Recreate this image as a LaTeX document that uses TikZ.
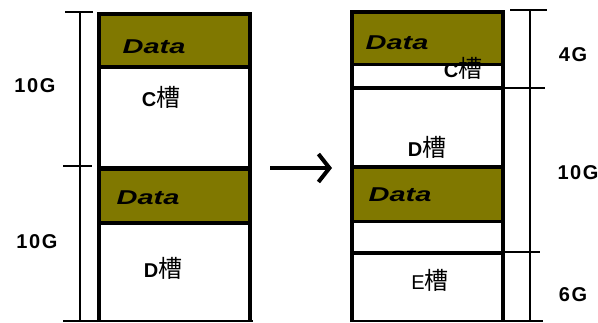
\documentclass[tikz,border=0pt]{standalone}
\usepackage{fontspec}
\setmainfont{Liberation Sans}
\newfontfamily\cjk{Noto Sans CJK SC}
\newfontfamily\sizefont[LetterSpace=8]{Liberation Sans}
\usetikzlibrary{arrows.meta}
\definecolor{olivefill}{RGB}{128,120,0}
\tikzset{
  wall/.style={line width=4pt},
  sep/.style={line width=3.5pt},
  dim/.style={line width=1.3pt},
  sizelbl/.style={font=\fontsize{20}{20}\selectfont\sizefont\bfseries, inner sep=0pt},
  datalbl/.style={inner sep=0pt},
  drivelbl/.style={inner sep=0pt},
}
\newcommand{\datatxt}{\scalebox{1.45}[1]{\fontsize{20}{20}\selectfont\bfseries\itshape Data}}
\newcommand{\drv}[1]{{\fontsize{20}{20}\selectfont\bfseries #1}{\cjk\fontsize{24}{24}\selectfont 槽}}
\newcommand{\drvn}[1]{{\fontsize{20}{20}\selectfont #1}{\cjk\fontsize{24}{24}\selectfont 槽}}
\begin{document}
\begin{tikzpicture}[x=1pt,y=-1pt]
\useasboundingbox (0,0) rectangle (598,322);
% ---- left column ----
\fill[olivefill] (99,14) rectangle (250,67);
\fill[olivefill] (99,168) rectangle (250,223);
\draw[wall] (99,322) -- (99,14) -- (250,14) -- (250,322);
\draw[sep] (99,67) -- (250,67);
\draw[wall,line width=5pt] (99,168) -- (250,168);
\draw[sep] (99,223) -- (250,223);
% ---- right column ----
\fill[olivefill] (352,12) rectangle (503,64.5);
\fill[olivefill] (352,167) rectangle (503,221.5);
\draw[wall] (352,322) -- (352,12) -- (503,12) -- (503,322);
\draw[sep] (352,64.5) -- (503,64.5);
\draw[wall] (352,88) -- (503,88);
\draw[wall] (352,167) -- (503,167);
\draw[sep] (352,221.5) -- (503,221.5);
\draw[wall] (352,252.5) -- (503,252.5);
% ---- bottom lines ----
\draw[dim] (63,321) -- (253,321);
\draw[dim] (350,321) -- (543,321);
% ---- left dimension ----
\coordinate (lt) at (80,12);
\coordinate (lb) at (80,321);
\draw[dim] (lt) -- (lb);
\draw[dim] (65,12) -- (93,12);
\draw[dim] (63,166) -- (92,166);
% ---- right dimension ----
\coordinate (rt) at (530,10);
\coordinate (rb) at (530,321);
\draw[dim] (rt) -- (rb);
\draw[dim] (510,10) -- (547,10);
\draw[dim] (505,88) -- (545,88);
\draw[dim] (505,252) -- (540,252);
% ---- arrow ----
\coordinate (as) at (270,168);
\coordinate (ae) at (332,168);
\draw[line width=4pt,-{Straight Barb[length=11pt,width=28pt,line width=4pt]}] (as) -- (ae);
% ---- labels ----
\node[sizelbl] (s1) at (35,86) {10G};
\node[sizelbl] (s2) at (37,242) {10G};
\node[sizelbl] (s3) at (573,55) {4G};
\node[sizelbl] (s4) at (578,173) {10G};
\node[sizelbl] (s5) at (573,295) {6G};
\node[datalbl] (d1) at (154,47) {\datatxt};
\node[datalbl] (d2) at (148,198) {\datatxt};
\node[datalbl] (d3) at (397,43) {\datatxt};
\node[datalbl] (d4) at (400,195) {\datatxt};
\node[drivelbl] (c1) at (161,97) {\drv{C}};
\node[drivelbl] (c2) at (163,268) {\drv{D}};
\node[drivelbl] (c3) at (463,68) {\drv{C}};
\node[drivelbl] (c4) at (427,147) {\drv{D}};
\node[drivelbl] (c5) at (430,280) {\drvn{E}};
\end{tikzpicture}
\end{document}
